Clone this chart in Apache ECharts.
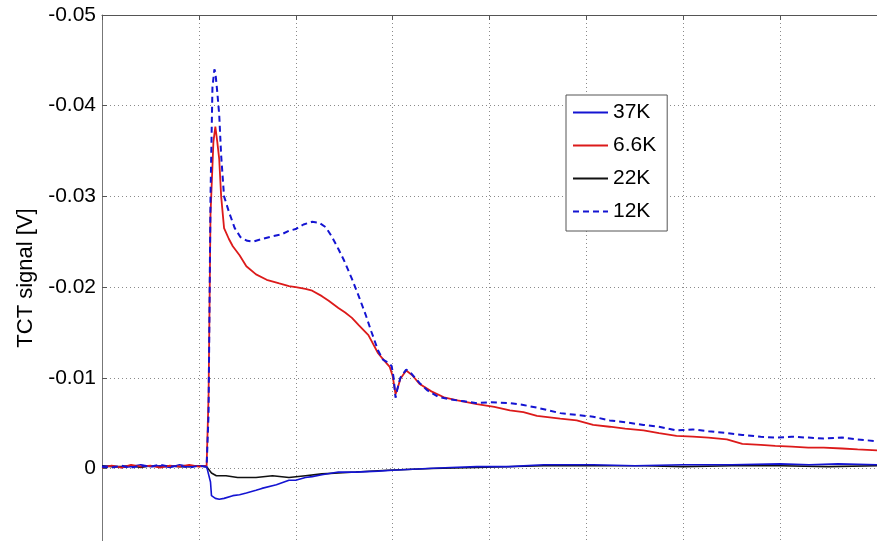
<!DOCTYPE html>
<html>
<head>
<meta charset="utf-8">
<script src="https://cdn.jsdelivr.net/npm/echarts@6/dist/echarts.min.js"></script>
<style>
  html, body { margin: 0; padding: 0; background: #fff; }
  #chart { width: 877px; height: 541px; }
</style>
</head>
<body>
<div id="chart"></div>
<script>
// x in grid units (one dotted grid line per unit), y in volts
const seriesNames = ['37K', '6.6K', '22K', '12K']

const t37 = [0, 0.1, 0.2, 0.3, 0.4, 0.5, 0.6, 0.7, 0.8, 0.9, 1.0, 1.08, 1.10, 1.12, 1.13, 1.17, 1.21, 1.26, 1.35, 1.42, 1.49, 1.59, 1.65, 1.80, 1.93, 2.00, 2.10, 2.17, 2.27, 2.44, 2.62, 2.85, 3.00, 3.36, 3.60, 3.87, 4.20, 4.56, 5.07, 5.50, 6.00, 6.50, 7.00, 7.30, 7.60, 8.00]
const v37 = [-0.0002, -0.0003, -0.0001, -0.0002, -0.0004, -0.0002, -0.0003, -0.0001, -0.0004, -0.0002, -0.0003, -0.0002, 0.0000, 0.0015, 0.0030, 0.0033, 0.0034, 0.0033, 0.0030, 0.0029, 0.0027, 0.0024, 0.0022, 0.0018, 0.0013, 0.0013, 0.0010, 0.0009, 0.0007, 0.0004, 0.0004, 0.0003, 0.0002, 0.0000, -0.0001, -0.0002, -0.0002, -0.0004, -0.0004, -0.0003, -0.0004, -0.0004, -0.0005, -0.0004, -0.0005, -0.0004]

const t66 = [0, 0.1, 0.2, 0.3, 0.4, 0.5, 0.6, 0.7, 0.8, 0.9, 1.0, 1.08, 1.10, 1.12, 1.15, 1.17, 1.19, 1.21, 1.23, 1.26, 1.31, 1.35, 1.42, 1.49, 1.59, 1.70, 1.83, 1.93, 2.00, 2.10, 2.17, 2.27, 2.34, 2.44, 2.51, 2.58, 2.65, 2.75, 2.85, 2.92, 2.97, 3.00, 3.03, 3.05, 3.08, 3.14, 3.20, 3.28, 3.40, 3.54, 3.67, 3.87, 4.05, 4.21, 4.35, 4.49, 4.73, 4.90, 5.07, 5.24, 5.40, 5.59, 5.75, 5.93, 6.10, 6.26, 6.45, 6.61, 6.80, 6.95, 7.12, 7.29, 7.45, 7.64, 7.80, 8.00]
const v66 = [-0.0001, -0.0003, -0.0001, -0.0004, -0.0002, -0.0003, -0.0001, -0.0003, -0.0002, -0.0004, -0.0002, -0.0003, -0.0080, -0.0280, -0.0360, -0.0377, -0.0360, -0.0341, -0.0300, -0.0265, -0.0253, -0.0245, -0.0235, -0.0223, -0.0214, -0.0208, -0.0204, -0.0201, -0.0200, -0.0198, -0.0196, -0.0190, -0.0185, -0.0177, -0.0172, -0.0166, -0.0158, -0.0147, -0.0127, -0.0118, -0.0112, -0.0102, -0.0082, -0.0088, -0.0099, -0.0108, -0.0103, -0.0093, -0.0085, -0.0078, -0.0075, -0.0071, -0.0068, -0.0064, -0.0062, -0.0058, -0.0055, -0.0053, -0.0048, -0.0046, -0.0044, -0.0042, -0.0039, -0.0036, -0.0035, -0.0034, -0.0032, -0.0027, -0.0026, -0.0025, -0.0024, -0.0023, -0.0023, -0.0022, -0.0021, -0.0020]

const t22 = [0, 0.1, 0.2, 0.3, 0.4, 0.5, 0.6, 0.7, 0.8, 0.9, 1.0, 1.08, 1.10, 1.13, 1.18, 1.28, 1.40, 1.59, 1.76, 1.93, 2.10, 2.27, 2.44, 2.62, 2.95, 3.40, 3.87, 4.56, 5.07, 5.60, 6.00, 6.50, 7.00, 7.50, 8.00]
const v22 = [-0.0003, -0.0002, -0.0002, -0.0003, -0.0001, -0.0003, -0.0002, -0.0003, -0.0002, -0.0002, -0.0003, -0.0002, 0.0000, 0.0005, 0.0008, 0.0008, 0.0010, 0.0010, 0.0008, 0.0010, 0.0008, 0.0006, 0.0005, 0.0004, 0.0002, 0.0000, -0.0001, -0.0003, -0.0003, -0.0003, -0.0002, -0.0003, -0.0003, -0.0002, -0.0003]

const t12 = [0, 0.1, 0.2, 0.3, 0.4, 0.5, 0.6, 0.7, 0.8, 0.9, 1.0, 1.08, 1.10, 1.12, 1.14, 1.16, 1.17, 1.19, 1.21, 1.23, 1.26, 1.31, 1.37, 1.43, 1.50, 1.56, 1.65, 1.76, 1.85, 1.93, 2.00, 2.08, 2.17, 2.24, 2.31, 2.37, 2.44, 2.50, 2.58, 2.65, 2.72, 2.78, 2.85, 2.90, 2.95, 2.99, 3.01, 3.03, 3.05, 3.08, 3.14, 3.19, 3.28, 3.36, 3.47, 3.60, 3.74, 3.87, 4.00, 4.21, 4.35, 4.49, 4.73, 4.90, 5.07, 5.24, 5.40, 5.59, 5.75, 5.93, 6.10, 6.26, 6.45, 6.61, 6.80, 6.95, 7.12, 7.29, 7.45, 7.64, 7.80, 8.00]
const v12 = [-0.0002, -0.0001, -0.0003, -0.0001, -0.0003, -0.0002, -0.0004, -0.0002, -0.0003, -0.0001, -0.0003, -0.0002, -0.0060, -0.0300, -0.0420, -0.0440, -0.0437, -0.0415, -0.0390, -0.0345, -0.0300, -0.0283, -0.0265, -0.0255, -0.0251, -0.0250, -0.0253, -0.0256, -0.0258, -0.0262, -0.0264, -0.0269, -0.0272, -0.0271, -0.0266, -0.0256, -0.0242, -0.0229, -0.0209, -0.0190, -0.0170, -0.0151, -0.0130, -0.0120, -0.0117, -0.0113, -0.0100, -0.0078, -0.0088, -0.0100, -0.0109, -0.0105, -0.0094, -0.0086, -0.0079, -0.0076, -0.0074, -0.0072, -0.0073, -0.0072, -0.0070, -0.0067, -0.0061, -0.0059, -0.0057, -0.0053, -0.0051, -0.0048, -0.0046, -0.0042, -0.0043, -0.0041, -0.0039, -0.0037, -0.0035, -0.0034, -0.0035, -0.0034, -0.0033, -0.0034, -0.0032, -0.0030]

const blue = '#1414d2'
const red = '#dc1a1a'
const black = '#111111'
const font = 'Liberation Sans, Arial, sans-serif'

function pairs(ts, vs) {
  return ts.map((t, i) => [t, vs[i]])
}

const chart = echarts.init(document.getElementById('chart'))

const gridLine = { show: true, lineStyle: { color: '#8a8a8a', type: [1, 3], width: 1 } }

chart.setOption({
  animation: false,
  backgroundColor: '#ffffff',
  grid: { left: 102, right: -6, top: 15, bottom: -3 },
  legend: {
    orient: 'vertical',
    left: 566,
    top: 95,
    padding: [7, 11, 9, 6],
    itemWidth: 35,
    itemHeight: 14,
    itemGap: 12,
    itemStyle: { opacity: 0 },
    backgroundColor: '#ffffff',
    borderColor: '#555555',
    borderWidth: 1,
    textStyle: { fontFamily: font, fontSize: 21, color: '#000', lineHeight: 20 },
    data: seriesNames
  },
  xAxis: [{
    type: 'value',
    min: 0,
    max: 8,
    interval: 1,
    axisLine: { show: false },
    axisTick: { show: false },
    axisLabel: { show: false },
    splitLine: gridLine
  }, {
    type: 'value',
    position: 'top',
    min: 0,
    max: 8,
    interval: 1,
    axisLine: { show: true, onZero: false, lineStyle: { color: '#555555', width: 1 } },
    axisTick: { show: true, inside: true, length: 5, lineStyle: { color: '#555555' } },
    axisLabel: { show: false },
    splitLine: { show: false }
  }],
  yAxis: {
    type: 'value',
    inverse: true,
    min: -0.05,
    max: 0.008,
    interval: 0.01,
    name: 'TCT signal [V]',
    nameLocation: 'middle',
    nameGap: 65,
    nameTextStyle: { fontFamily: font, fontSize: 22, color: '#000' },
    axisLine: { show: true, lineStyle: { color: '#777777', width: 1 } },
    axisTick: { show: true, inside: true, length: 5, lineStyle: { color: '#555555' } },
    axisLabel: {
      fontFamily: font,
      fontSize: 21,
      color: '#000',
      margin: 6,
      formatter: (v) => {
        const k = Math.round(v * 100)
        if (Math.abs(v * 100 - k) > 1e-6) return ''
        return k === 0 ? '0' : (k / 100).toFixed(2)
      }
    },
    splitLine: gridLine
  },
  series: [
    {
      name: '37K', type: 'line', symbol: 'none', xAxisIndex: 0,
      data: pairs(t37, v37),
      lineStyle: { color: blue, width: 1.6 }, itemStyle: { color: blue }, z: 3
    },
    {
      name: '6.6K', type: 'line', symbol: 'none', xAxisIndex: 0,
      data: pairs(t66, v66),
      lineStyle: { color: red, width: 1.8 }, itemStyle: { color: red }, z: 4
    },
    {
      name: '22K', type: 'line', symbol: 'none', xAxisIndex: 0,
      data: pairs(t22, v22),
      lineStyle: { color: black, width: 1.6 }, itemStyle: { color: black }, z: 2
    },
    {
      name: '12K', type: 'line', symbol: 'none', xAxisIndex: 0,
      data: pairs(t12, v12),
      lineStyle: { color: blue, width: 2, type: [6, 4] }, itemStyle: { color: blue }, z: 5
    }
  ]
})
</script>
</body>
</html>
